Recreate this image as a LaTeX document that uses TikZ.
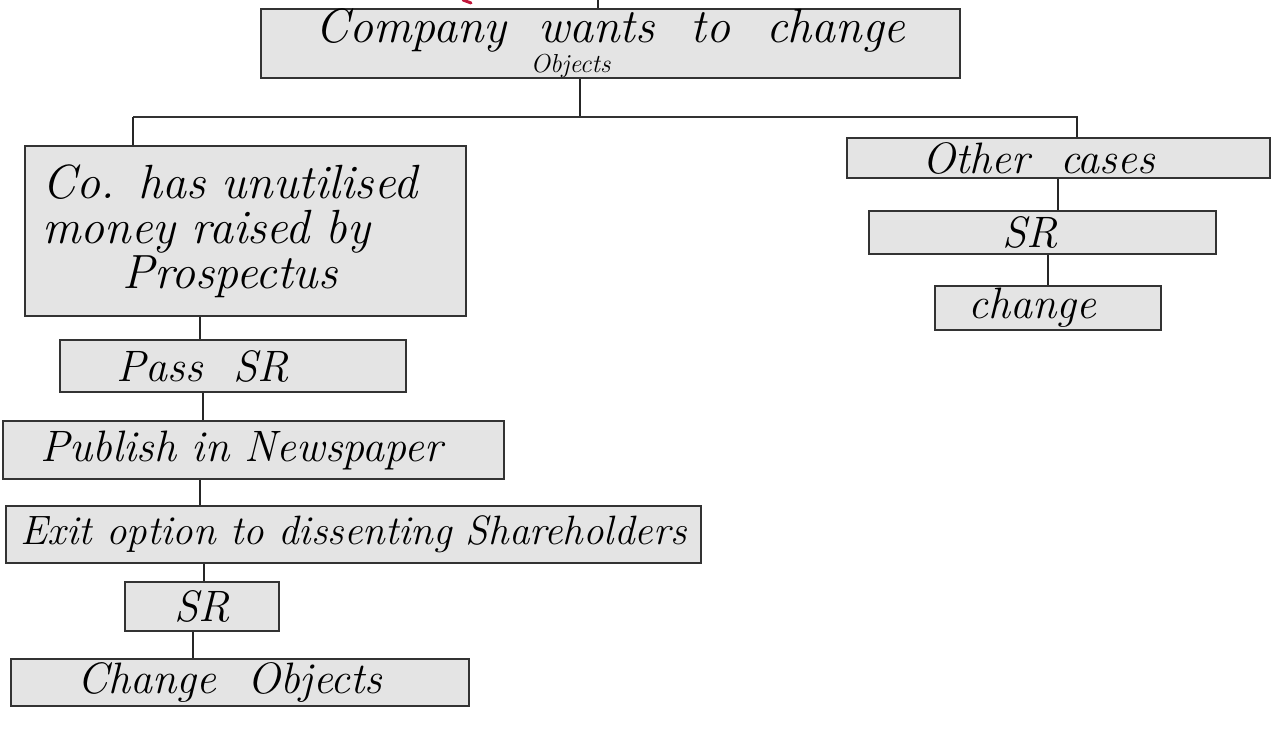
\documentclass[tikz,border=0pt]{standalone}
\usepackage{amsmath}
\usetikzlibrary{positioning,calc}
\definecolor{boxgray}{HTML}{E4E4E4}
\definecolor{inkred}{HTML}{C0163A}
\newcommand\tightlines{\lineskiplimit=-50pt\relax}
\tikzset{gbox/.style={draw=black!80,fill=boxgray,line width=1pt,inner sep=0pt,align=center,font=\fontsize{22}{24}\selectfont\itshape}  }
\tikzset{link/.style={line width=0.6pt,black!85}  }
\tikzset{bar/.style={line width=1pt,black!80}  }

\begin{document}
\begin{tikzpicture}[x=0.5pt,y=-0.5pt]
	\useasboundingbox (0,0) rectangle (1271,742);
		\node[gbox,minimum width=349.5pt,minimum height=34.5pt,font={\fontsize{24}{15}\selectfont\itshape\tightlines}] (top) at (610.5,43.5) {Company\hspace{16pt}wants\hspace{18pt}to\hspace{18pt}change\\ \hspace*{-40pt}{\fontsize{13}{15}\selectfont Objects}};
		\node[gbox,minimum width=220.5pt,minimum height=85pt,text width=203pt,align=left,font=\fontsize{24}{22.5}\selectfont\itshape] (co) at (245.5,231) {Co. has unutilised\\ money raised by\\ \hspace*{40pt}Prospectus};
		\node[gbox,minimum width=173pt,minimum height=26pt] (pass) at (233,366.5) {\hspace*{-30pt}Pass\ \ SR};
		\node[gbox,minimum width=250.5pt,minimum height=29pt] (pub) at (253.5,450.5) {\hspace*{-12pt}Publish in Newspaper};
		\node[gbox,minimum width=347.5pt,minimum height=28.5pt,font=\fontsize{20.5}{24}\selectfont\itshape] (exit) at (353.5,534.5) {Exit option to dissenting Shareholders};
		\node[gbox,minimum width=77pt,minimum height=24.5pt] (sr) at (202,606.5) {SR};
		\node[gbox,minimum width=229pt,minimum height=23.5pt] (chg) at (240,682.5) {\hspace*{-10pt}Change\ \ Objects};

		\node[gbox,minimum width=211.5pt,minimum height=20pt] (oth) at (1058.5,158) {\hspace*{-20pt}Other\ \ cases};
		\node[gbox,minimum width=173.5pt,minimum height=21.5pt] (srr) at (1042.5,232.5) {\hspace*{-12pt}SR};
		\node[gbox,minimum width=113pt,minimum height=22pt] (chgg) at (1048,308) {\hspace*{-16pt}change};

		\coordinate (entry) at (598,0);
		\coordinate (split) at (580,117);
		\coordinate (lft) at (133,117);
		\coordinate (rgt) at (1078,117);

			\draw[link] (entry) -- (entry |- top.north);
			\draw[link] (split |- top.south) -- (split);
			\draw[bar] (lft) -- (rgt);
			\draw[link] (lft) -- (lft |- co.north);
			\draw[link] ([xshift=-0.5pt]rgt) -- ([xshift=-0.5pt]rgt |- oth.north);
			\draw[link] ([xshift=-22.75pt]co.south) -- ([xshift=-22.75pt]co.south |- pass.north);
			\draw[link] ([xshift=-15pt]pass.south) -- ([xshift=-15pt]pass.south |- pub.north);
			\draw[link] ([xshift=-26.75pt]pub.south) -- ([xshift=-26.75pt]pub.south |- exit.north);
			\draw[link] ([xshift=-74.75pt]exit.south) -- ([xshift=-74.75pt]exit.south |- sr.north);
			\draw[link] ([xshift=-4.5pt]sr.south) -- ([xshift=-4.5pt]sr.south |- chg.north);
			\draw[link] ([xshift=-0.25pt]oth.south) -- ([xshift=-0.25pt]oth.south |- srr.north);
			\draw[link] ([xshift=2.75pt]srr.south) -- ([xshift=2.75pt]srr.south |- chgg.north);

		\draw[inkred,line width=1.5pt,line cap=round] (463,0) -- (471,3);
	\end{tikzpicture}
\end{document}
